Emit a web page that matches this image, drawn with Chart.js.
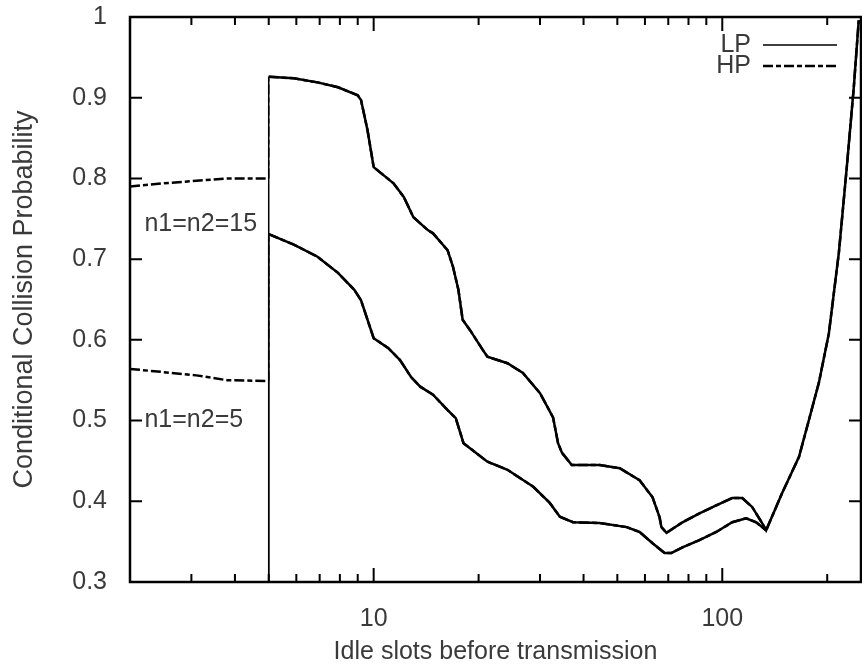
<!DOCTYPE html>
<html>
<head>
<meta charset="utf-8">
<script src="https://cdn.jsdelivr.net/npm/chart.js@4.4.0/dist/chart.umd.min.js"></script>
<style>
  html, body { margin: 0; padding: 0; background: #fff; }
</style>
</head>
<body>
<canvas id="chart" width="862" height="665"></canvas>
<script>
// values (log x axis)
const xLeft = [2, 2.5, 3.1, 3.8, 5];
const yLeft15 = [0.79, 0.794, 0.797, 0.800, 0.800];
const yLeft5 = [0.564, 0.560, 0.556, 0.550, 0.549];

const xUpper = [5, 5.9, 6.9, 7.9, 9.0, 9.2, 9.6, 10, 11.4, 12.2, 13.0, 14.3, 14.8, 16.3, 16.9, 17.5, 18.0, 18.9,
  20.6, 21.2, 24.2, 26.8, 30.0, 32.7, 33.8, 34.7, 37.0, 44.5, 50.8, 57.9, 63.1, 66.1, 66.9, 69.2, 76.9, 86.0,
  96.1, 106.8, 114.1, 121.8, 130.1, 133.6, 148.4, 166.0, 177.3, 189.3, 202.2, 216.0, 227.6, 238.4, 246.3];
const yUpper = [0.926, 0.924, 0.919, 0.913, 0.903, 0.897, 0.860, 0.814, 0.794, 0.777, 0.752, 0.736, 0.732, 0.711,
  0.690, 0.662, 0.625, 0.612, 0.587, 0.579, 0.571, 0.559, 0.534, 0.504, 0.472, 0.460, 0.445, 0.445, 0.441, 0.426,
  0.405, 0.380, 0.368, 0.361, 0.374, 0.385, 0.395, 0.404, 0.404, 0.393, 0.373, 0.364, 0.410, 0.455, 0.501, 0.547,
  0.608, 0.708, 0.814, 0.913, 0.996];

const xLower = [5, 5.9, 6.9, 7.9, 8.8, 9.2, 9.6, 10, 11.0, 11.9, 12.8, 13.6, 14.8, 16.3, 17.2, 18.1, 21.2, 24.2,
  28.7, 32.0, 34.2, 37.3, 44.5, 53.2, 57.9, 63.1, 68.3, 71.5, 76.9, 86.0, 96.1, 106.8, 117.1, 125.1, 133.6];
const yLower = [0.731, 0.718, 0.703, 0.683, 0.662, 0.649, 0.625, 0.602, 0.590, 0.575, 0.554, 0.542, 0.532, 0.513,
  0.503, 0.472, 0.449, 0.439, 0.418, 0.398, 0.381, 0.374, 0.373, 0.368, 0.362, 0.348, 0.336, 0.336, 0.343, 0.352,
  0.362, 0.374, 0.379, 0.374, 0.364];

const xMajorTicks = [10, 100];
const xMinorTicks = [3, 4, 5, 6, 7, 8, 9, 20, 30, 40, 50, 60, 70, 80, 90, 200];
const yTicks = [0.3, 0.4, 0.5, 0.6, 0.7, 0.8, 0.9, 1];

const annoLabels = ['n1=n2=15', 'n1=n2=5'];
const annoX = [2.2, 2.2];
const annoY = [0.744, 0.5];

const FONT = "'Liberation Sans', Arial, sans-serif";
const TEXT = '#3a3a3a';
const HP_DASH = [10, 3, 5, 3];

const pts = (xs, ys) => xs.map((x, i) => ({ x, y: ys[i] }));
const thinVertical = { borderWidth: c => c.p0.parsed.x === c.p1.parsed.x ? 1.5 : undefined };

const frameTicks = {
  id: 'frameTicks',
  afterDatasetsDraw(chart) {
    const { ctx, chartArea: a, scales: { x, y } } = chart;
    ctx.save();
    ctx.strokeStyle = '#000';
    ctx.lineWidth = 2.5;
    ctx.strokeRect(a.left, a.top, a.right - a.left, a.bottom - a.top);

    ctx.lineWidth = 2;
    ctx.beginPath();
    const xTick = (v, len) => {
      const px = x.getPixelForValue(v);
      ctx.moveTo(px, a.bottom); ctx.lineTo(px, a.bottom - len);
      ctx.moveTo(px, a.top); ctx.lineTo(px, a.top + len);
    };
    xMajorTicks.forEach(v => xTick(v, 14));
    xMinorTicks.forEach(v => xTick(v, 8));
    yTicks.forEach(v => {
      const py = y.getPixelForValue(v);
      ctx.moveTo(a.left, py); ctx.lineTo(a.left + 12, py);
      ctx.moveTo(a.right, py); ctx.lineTo(a.right - 12, py);
    });
    ctx.stroke();

    // key, gnuplot style: label then sample
    ctx.font = '25px ' + FONT;
    ctx.fillStyle = TEXT;
    ctx.textAlign = 'right';
    ctx.textBaseline = 'middle';
    const keyY = [45, 66];
    [0, 1].forEach(i => {
      const ds = chart.data.datasets[i];
      ctx.fillText(ds.label, 751, keyY[i]);
      ctx.beginPath();
      ctx.lineWidth = i === 0 ? 1.5 : 2.5;
      ctx.setLineDash(i === 0 ? [] : HP_DASH);
      ctx.moveTo(763, keyY[i]);
      ctx.lineTo(837, keyY[i]);
      ctx.stroke();
    });
    ctx.setLineDash([]);

    ctx.textAlign = 'left';
    annoLabels.forEach((t, i) => {
      ctx.fillText(t, x.getPixelForValue(annoX[i]), y.getPixelForValue(annoY[i]));
    });
    ctx.restore();
  }
};

new Chart(document.getElementById('chart'), {
  type: 'scatter',
  data: {
    datasets: [
      {
        label: 'LP',
        data: [{ x: 5, y: 0.3 }].concat(pts(xUpper, yUpper)),
        borderColor: '#000', borderWidth: 2.5, showLine: true, segment: thinVertical
      },
      {
        label: 'HP',
        data: pts(xLeft, yLeft15).concat(pts(xUpper, yUpper)),
        borderColor: '#000', borderWidth: 2.5, borderDash: HP_DASH, showLine: true, segment: thinVertical
      },
      {
        label: 'LP',
        data: [{ x: 5, y: 0.3 }].concat(pts(xLower, yLower)),
        borderColor: '#000', borderWidth: 2.5, showLine: true, segment: thinVertical
      },
      {
        label: 'HP',
        data: pts(xLeft, yLeft5).concat(pts(xLower, yLower)),
        borderColor: '#000', borderWidth: 2.5, borderDash: HP_DASH, showLine: true, segment: thinVertical
      }
    ]
  },
  options: {
    responsive: false,
    animation: false,
    devicePixelRatio: 1,
    layout: { padding: { top: 17, right: 1, left: 0, bottom: 0 } },
    elements: { point: { radius: 0, hoverRadius: 0 }, line: { tension: 0 } },
    plugins: { legend: { display: false }, tooltip: { enabled: false } },
    scales: {
      x: {
        type: 'logarithmic',
        min: 2,
        max: 250,
        afterBuildTicks: s => { s.ticks = xMajorTicks.map(v => ({ value: v })); },
        afterFit: s => { s.height = 83; s.paddingLeft = 0; s.paddingRight = 0; },
        grid: { display: false },
        border: { display: false },
        ticks: {
          autoSkip: false,
          maxRotation: 0,
          padding: 14,
          color: TEXT,
          font: { family: FONT, size: 25 },
          callback: v => String(v)
        },
        title: {
          display: true,
          text: 'Idle slots before transmission',
          color: TEXT,
          font: { family: FONT, size: 25, lineHeight: 1 },
          padding: 0
        }
      },
      y: {
        min: 0.3,
        max: 1,
        afterBuildTicks: s => { s.ticks = yTicks.map(v => ({ value: v })); },
        afterFit: s => { s.width = 130; s.paddingTop = 0; s.paddingBottom = 0; },
        grid: { display: false },
        border: { display: false },
        ticks: {
          padding: 15,
          color: TEXT,
          font: { family: FONT, size: 25 },
          callback: v => String(v)
        },
        title: {
          display: true,
          text: 'Conditional Collision Probability',
          color: TEXT,
          font: { family: FONT, size: 27, lineHeight: 1 },
          padding: { top: 11 }
        }
      }
    }
  },
  plugins: [frameTicks]
});
</script>
</body>
</html>
